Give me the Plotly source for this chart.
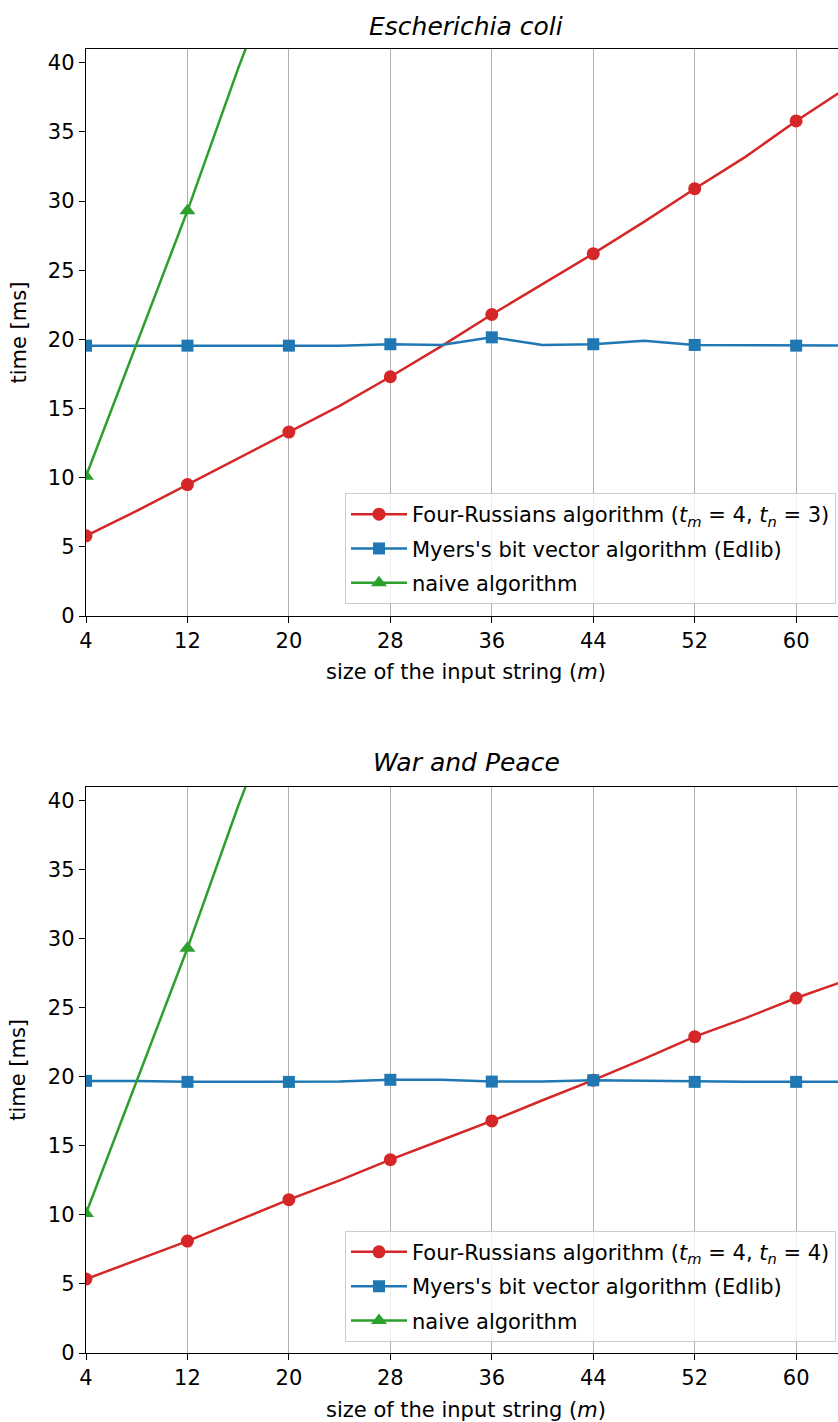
import plotly.graph_objects as go

# ---- data ----
m = [4, 8, 12, 16, 20, 24, 28, 32, 36, 40, 44, 48, 52, 56, 60, 64]
x_ticks = [4, 12, 20, 28, 36, 44, 52, 60]
y_ticks = [0, 5, 10, 15, 20, 25, 30, 35, 40]

ecoli_four_russians = [5.8, 7.6, 9.5, 11.4, 13.3, 15.2, 17.3, 19.5, 21.8, 24.0, 26.2, 28.5, 30.9, 33.2, 35.8, 38.2]
ecoli_myers = [19.55, 19.55, 19.55, 19.55, 19.55, 19.55, 19.65, 19.6, 20.15, 19.6, 19.65, 19.9, 19.6, 19.6, 19.55, 19.55]
ecoli_naive = [10.1, 19.7, 29.3, 39.6, 49.2]

wp_four_russians = [5.35, 6.7, 8.1, 9.6, 11.1, 12.5, 14.0, 15.4, 16.8, 18.3, 19.75, 21.3, 22.9, 24.25, 25.7, 27.0]
wp_myers = [19.7, 19.7, 19.63, 19.63, 19.63, 19.65, 19.78, 19.78, 19.65, 19.65, 19.75, 19.7, 19.63, 19.63, 19.63, 19.63]
wp_naive = [10.1, 19.7, 29.3, 39.6, 49.2]

titles = ["Escherichia coli", "War and Peace"]
fr_labels = [
    "Four-Russians algorithm (<i>t</i><sub><i>m</i></sub> = 4, <i>t</i><sub><i>n</i></sub> = 3)",
    "Four-Russians algorithm (<i>t</i><sub><i>m</i></sub> = 4, <i>t</i><sub><i>n</i></sub> = 4)",
]
myers_label = "Myers's bit vector algorithm (Edlib)"
naive_label = "naive algorithm"

RED, BLUE, GREEN = "#d62728", "#1f77b4", "#2ca02c"
FONT = "DejaVu Sans"
FS = 21
TFS = 25

W, H = 838, 1422
L, T, B = 86, 49, 69
plot_h = H - T - B


def py(pix):
    return (H - B - pix) / plot_h


def px(pix):
    return (pix - L) / (W - L)


def sizes(n, s):
    return [s if i % 2 == 0 else 0 for i in range(n)]


fig = go.Figure()

datasets = [
    (ecoli_four_russians, ecoli_myers, ecoli_naive),
    (wp_four_russians, wp_myers, wp_naive),
]
axes = [("x", "y"), ("x2", "y2")]
legends = ["legend", "legend2"]

for k, (fr, my, nv) in enumerate(datasets):
    xa, ya = axes[k]
    lg = legends[k]
    series = [
        (fr, fr_labels[k], RED, "circle", 13, f"fr{k}"),
        (my, myers_label, BLUE, "square", 12, f"my{k}"),
        (nv, naive_label, GREEN, "triangle-up", 14, f"nv{k}"),
    ]
    for vals, name, col, sym, sz, grp in series:
        xs = m[:len(vals)]
        fig.add_trace(go.Scatter(
            x=xs, y=vals, mode="lines+markers", name=name, showlegend=False,
            line=dict(color=col, width=2.5),
            marker=dict(symbol=sym, size=sizes(len(vals), sz), color=col,
                        opacity=1, line=dict(width=0)),
            xaxis=xa, yaxis=ya, legend=lg, legendgroup=grp, cliponaxis=True))
        # legend entry
        fig.add_trace(go.Scatter(
            x=[None], y=[None], mode="lines+markers", name=name, showlegend=True,
            line=dict(color=col, width=2.5),
            marker=dict(symbol=sym, size=sz, color=col, opacity=1, line=dict(width=0)),
            xaxis=xa, yaxis=ya, legend=lg, legendgroup=grp))

top_dom = [py(616), 1.0]
bot_dom = [0.0, py(786.7)]

xcommon = dict(
    range=[4, 63.3], tickvals=x_ticks, ticks="outside", ticklen=6, tickwidth=1.4,
    tickcolor="black", showline=True, linecolor="black", linewidth=1.4, mirror=True,
    showgrid=True, gridcolor="#b0b0b0", gridwidth=1.2, zeroline=False,
    tickfont=dict(family=FONT, size=FS, color="black"), domain=[0, 1])
ycommon = dict(
    range=[0, 41], tickvals=y_ticks, ticks="outside", ticklen=6, tickwidth=1.4,
    tickcolor="black", showline=True, linecolor="black", linewidth=1.4, mirror=False,
    showgrid=False, zeroline=False,
    tickfont=dict(family=FONT, size=FS, color="black"))

legcommon = dict(
    xanchor="right", yanchor="bottom", x=px(836),
    bgcolor="rgba(255,255,255,0.8)", bordercolor="#cccccc", borderwidth=1,
    font=dict(family=FONT, size=FS, color="black"), itemsizing="trace",
    itemwidth=56, tracegroupgap=4, traceorder="grouped")

fig.update_layout(
    width=W, height=H, margin=dict(l=L, r=0, t=T, b=B),
    paper_bgcolor="white", plot_bgcolor="white",
    font=dict(family=FONT, size=FS, color="black"),
    xaxis=dict(xcommon, anchor="y"),
    yaxis=dict(ycommon, domain=top_dom, anchor="x"),
    xaxis2=dict(xcommon, anchor="y2"),
    yaxis2=dict(ycommon, domain=bot_dom, anchor="x2"),
    legend=dict(legcommon, y=py(604)),
    legend2=dict(legcommon, y=py(1341.7)),
    showlegend=True,
)

annots = []
for k, (title_pix, xl_pix, dom) in enumerate([(27, 672, top_dom), (762, 1410, bot_dom)]):
    annots.append(dict(text=f"<i>{titles[k]}</i>", xref="paper", yref="paper",
                       x=px(466), y=py(title_pix), showarrow=False,
                       xanchor="center", yanchor="middle",
                       font=dict(family=FONT, size=TFS, color="black")))
    annots.append(dict(text="size of the input string (<i>m</i>)", xref="paper", yref="paper",
                       x=px(466), y=py(xl_pix), showarrow=False,
                       xanchor="center", yanchor="middle",
                       font=dict(family=FONT, size=FS, color="black")))
    annots.append(dict(text="time [ms]", xref="paper", yref="paper",
                       x=px(18), y=(dom[0] + dom[1]) / 2, showarrow=False,
                       xanchor="center", yanchor="middle", textangle=-90,
                       font=dict(family=FONT, size=FS, color="black")))
fig.update_layout(annotations=annots)

fig.write_html(
    "out.html",
    config={"displayModeBar": False},
    post_script="document.body.style.margin='0';document.body.style.overflow='hidden';",
)
